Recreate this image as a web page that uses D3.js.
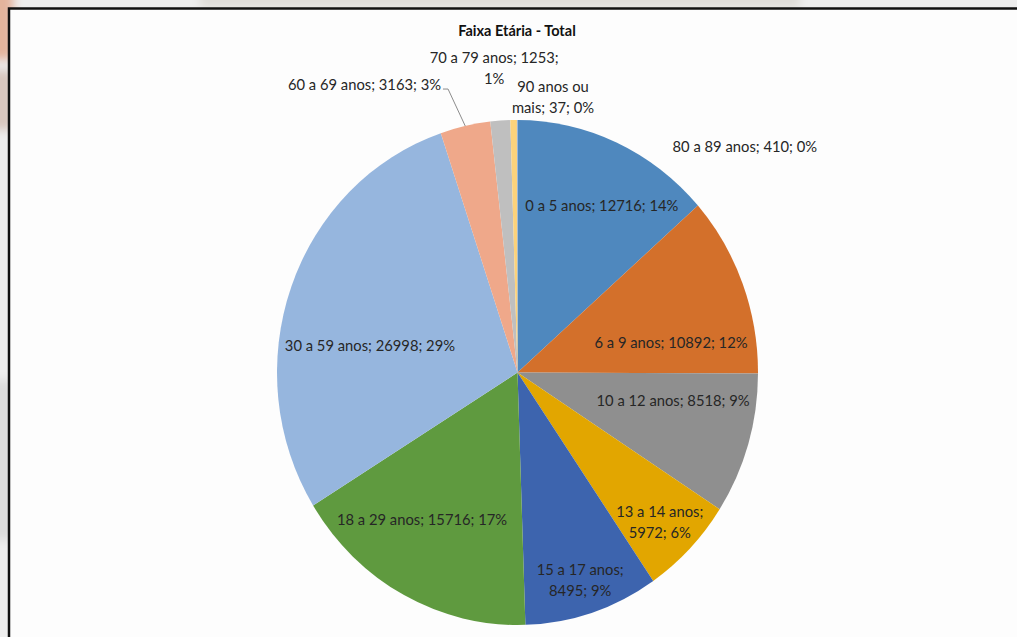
<!DOCTYPE html>
<html>
<head>
<meta charset="utf-8">
<script src="https://cdn.jsdelivr.net/npm/d3@7"></script>
<style>
  html, body { margin: 0; padding: 0; width: 1017px; height: 637px; overflow: hidden; }
  body { background: #eeeeee; }
  svg { display: block; }
</style>
</head>
<body>
<svg id="chart" width="1017" height="637"></svg>
<script>
// Age groups, clockwise from 12 o'clock
const categories = [
  "0 a 5 anos", "6 a 9 anos", "10 a 12 anos", "13 a 14 anos", "15 a 17 anos",
  "18 a 29 anos", "30 a 59 anos", "60 a 69 anos", "70 a 79 anos",
  "80 a 89 anos", "90 anos ou mais"
];
const values = [12716, 10892, 8518, 5972, 8495, 15716, 26998, 3163, 1253, 410, 37];
const title = "Faixa Etária - Total";

const colors = [
  "#4f88be", "#d3702b", "#8f8f8f", "#e2a600", "#3d64ae", "#5f9a3f",
  "#96b6de", "#efa88a", "#bfbfbf", "#fcd27b", "#8faadc"
];

// Label placement: angle (deg, clockwise from top), radius as fraction of R,
// number of words on the first line (0 = single line), text anchor, leader line
const labelLayout = [
  { a: 27.9,  r: 0.750, brk: 0 },
  { a: 79.6,  r: 0.649, brk: 0 },
  { a: 99.6,  r: 0.656, brk: 0 },
  { a: 135.1, r: 0.838, brk: 4 },
  { a: 162.4, r: 0.862, brk: 4 },
  { a: 214.2, r: 0.706, brk: 0 },
  { a: 280.0, r: 0.623, brk: 0 },
  { a: 344.4, r: 1.182, brk: 0, anchor: "end", leader: true },
  { a: 355.4, r: 1.210, brk: 5 },
  { a: 46.6,  r: 1.301, brk: 0 },
  { a: 7.7,   r: 1.101, brk: 3 }
];

const svg = d3.select("#chart");
const W = 1017, H = 637;

// soft backdrop outside the chart frame
const defs = svg.append("defs");
defs.append("filter").attr("id", "soft")
  .append("feGaussianBlur").attr("stdDeviation", 5);
const bg = svg.append("g").attr("filter", "url(#soft)");
bg.append("rect").attr("x", -20).attr("y", -20).attr("width", W + 40).attr("height", H + 40).attr("fill", "#eeeeee");
bg.append("rect").attr("x", -20).attr("y", -20).attr("width", 34).attr("height", 80).attr("fill", "#e3b49c");
bg.append("rect").attr("x", -20).attr("y", 70).attr("width", 34).attr("height", 60).attr("fill", "#d8c6be");
bg.append("rect").attr("x", 200).attr("y", -20).attr("width", 600).attr("height", 28).attr("fill", "#dedcd8");
bg.append("rect").attr("x", -20).attr("y", 380).attr("width", 34).attr("height", 160).attr("fill", "#dcdcdc");

// chart frame
svg.append("rect")
  .attr("x", 12).attr("y", 11).attr("width", W).attr("height", H)
  .attr("fill", "none").attr("stroke", "#9a9a9a").attr("stroke-width", 2).attr("opacity", 0.6);
svg.append("rect")
  .attr("x", 9).attr("y", 8.5).attr("width", W + 10).attr("height", H + 10)
  .attr("fill", "#fdfdfd").attr("stroke", "#111").attr("stroke-width", 2.5);

svg.append("text")
  .attr("x", 517).attr("y", 36)
  .attr("text-anchor", "middle")
  .attr("font-family", "Lato, 'Open Sans', sans-serif")
  .attr("font-weight", "bold")
  .attr("font-size", 14.5)
  .attr("fill", "#111")
  .text(title);

const R = 252.5;
const sx = 240.5 / 252.5;
const g = svg.append("g")
  .attr("transform", `translate(517.5,372.5) scale(${sx},1)`);

const total = d3.sum(values);
const data = categories.map((c, i) => ({ name: c, value: values[i], i }));

const pie = d3.pie().sort(null).value(d => d.value);
const arcs = pie(data);
const arc = d3.arc().innerRadius(0).outerRadius(R);

g.selectAll("path.slice")
  .data(arcs)
  .join("path")
  .attr("class", "slice")
  .attr("d", arc)
  .attr("fill", d => colors[d.data.i]);

const rad = deg => deg * Math.PI / 180;
const polar = (aDeg, rf) => [R * rf * Math.sin(rad(aDeg)), -R * rf * Math.cos(rad(aDeg))];

const lineH = 21;
arcs.forEach((d, k) => {
  const L = labelLayout[k];
  const pct = Math.round(d.data.value / total * 100) + "%";
  const full = `${d.data.name}; ${d.data.value}; ${pct}`;
  const words = full.split(" ");
  const lines = L.brk ? [words.slice(0, L.brk).join(" "), words.slice(L.brk).join(" ")] : [full];
  const [x, y] = polar(L.a, L.r);
  const t = g.append("text")
    .attr("text-anchor", L.anchor || "middle")
    .attr("font-family", "Lato, 'Open Sans', sans-serif")
    .attr("font-size", 15.5)
    .attr("fill", "#262626");
  const y0 = y - (lines.length - 1) * lineH / 2;
  lines.forEach((ln, j) => {
    t.append("tspan")
      .attr("x", x)
      .attr("y", y0 + j * lineH)
      .attr("dy", "0.35em")
      .text(ln);
  });
  if (L.leader) {
    const mid = (d.startAngle + d.endAngle) / 2 * 180 / Math.PI;
    const [ex, ey] = polar(mid, 1.0);
    const bx = x + 7 / sx, by = y + 4;
    g.append("polyline")
      .attr("points", `${ex},${ey} ${bx},${by} ${x + 2},${by}`)
      .attr("fill", "none")
      .attr("stroke", "#8c8c8c")
      .attr("stroke-width", 1)
      .attr("vector-effect", "non-scaling-stroke");
  }
});
</script>
</body>
</html>
